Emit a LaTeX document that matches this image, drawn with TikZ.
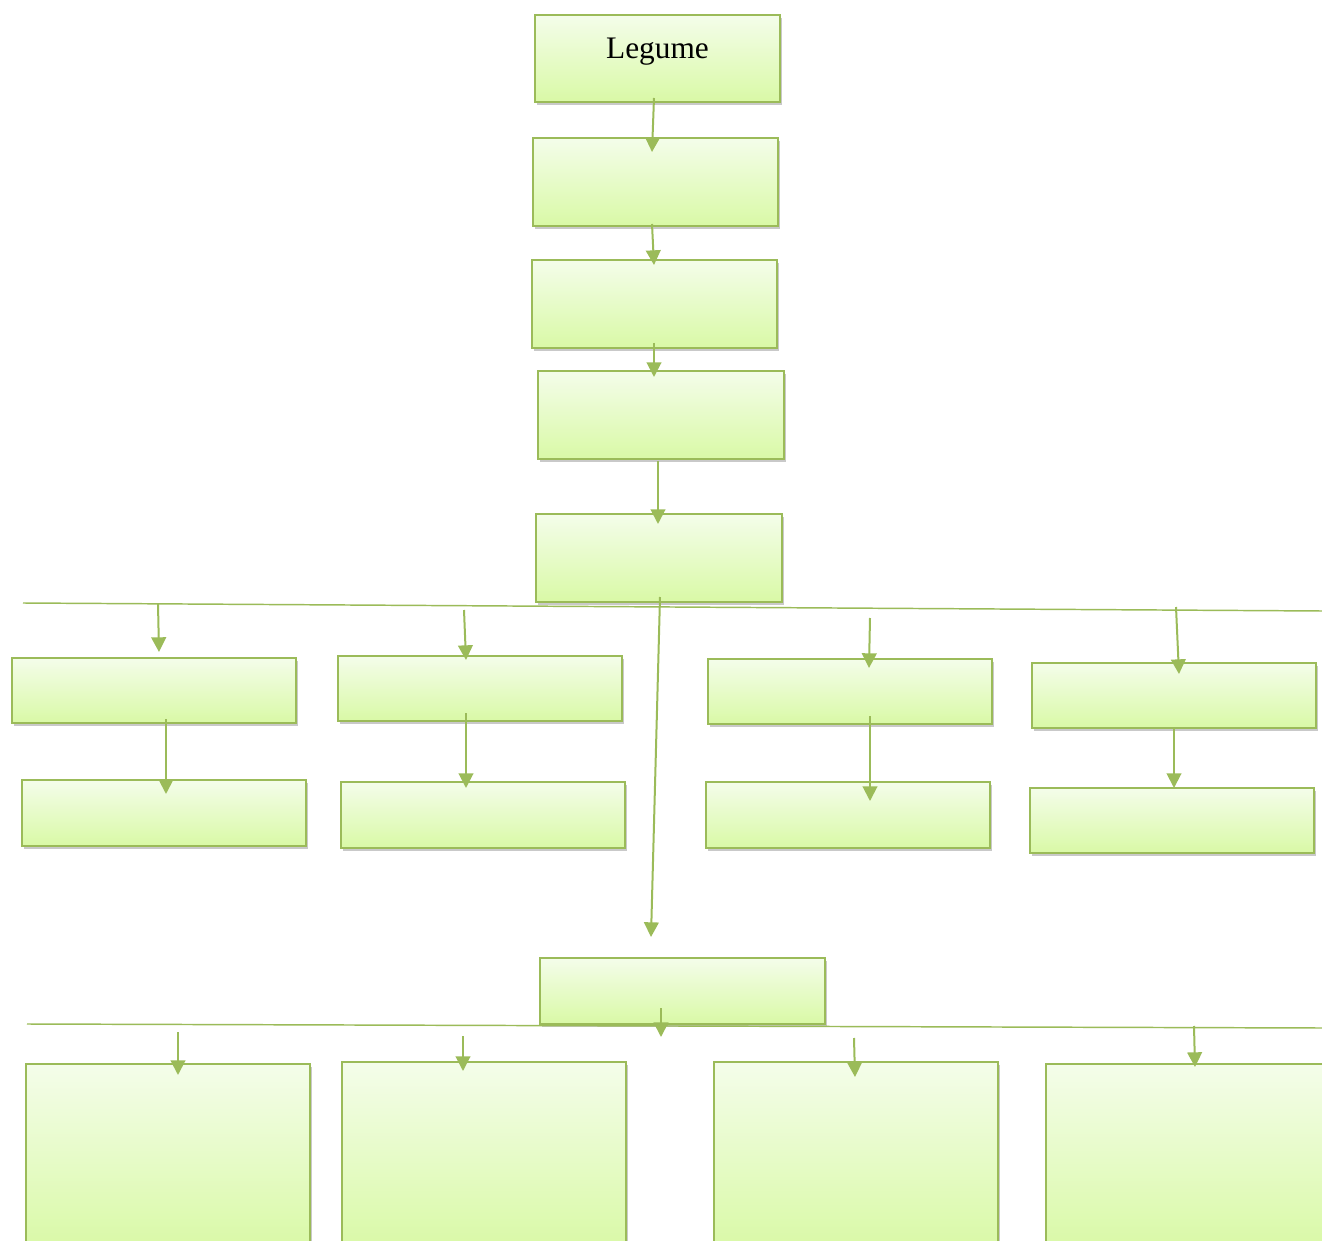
\documentclass[tikz,border=0pt]{standalone}
\usepackage{fontspec}
\setmainfont{Liberation Serif}
\usetikzlibrary{arrows.meta,shadows}
\definecolor{leafline}{HTML}{9BBB59}
\definecolor{leaftop}{HTML}{F4FDEA}
\definecolor{leafbot}{HTML}{D9F9A6}
\tikzset{
  box/.style={draw=leafline, line width=1.2pt, top color=leaftop, bottom color=leafbot,
    inner sep=0pt, outer sep=0pt,
    drop shadow={shadow xshift=1.8pt, shadow yshift=-2.4pt, opacity=0.3, fill=black!70}},
  arr/.style={draw=leafline, line width=1.5pt, -{Triangle[length=11pt,width=11pt]}},
  rule/.style={draw=leafline, line width=1.1pt},
}
% \leafbox{name}{x1}{y1}{x2}{y2}: a shaded box given by its corners
\newcommand\leafbox[5]{\node[box, minimum width={(#4-#2)*0.75pt}, minimum height={(#5-#3)*0.75pt}] (#1) at ({(#2+#4)/2},{(#3+#5)/2}) {};}
\begin{document}
\begin{tikzpicture}[x=0.75pt, y=-0.75pt]
\useasboundingbox (0,0) rectangle (1322,1241);
\clip (0,0) rectangle (1322,1241);

% main column
\leafbox{b0}{535}{15}{780}{102}
\leafbox{b1}{533}{138}{778}{226}
\leafbox{b2}{532}{260}{777}{348}
\leafbox{b3}{538}{371}{784}{459}
\leafbox{b4}{536}{514}{782}{602}
\node[font=\fontsize{23.5}{28}\selectfont, inner sep=0pt] (legume) at ([yshift=4.9pt]b0.center) {Legume};

% first branch rows
\leafbox{r1a}{12}{658}{296}{723}
\leafbox{r1b}{338}{656}{622}{721}
\leafbox{r1c}{708}{659}{992}{724}
\leafbox{r1d}{1032}{663}{1316}{728}
\leafbox{r2a}{22}{780}{306}{846}
\leafbox{r2b}{341}{782}{625}{848}
\leafbox{r2c}{706}{782}{990}{848}
\leafbox{r2d}{1030}{788}{1314}{853}

% second hub and its row
\leafbox{b5}{540}{958}{825}{1024}
\leafbox{r3a}{26}{1064}{310}{1250}
\leafbox{r3b}{342}{1062}{626}{1250}
\leafbox{r3c}{714}{1062}{998}{1250}
\leafbox{r3d}{1046}{1064}{1340}{1250}

% branching rules
\coordinate (h1l) at (23,603);
\coordinate (h1r) at (1322,611);
\coordinate (h2l) at (27,1024);
\coordinate (h2r) at (1322,1028);
\draw[rule] (h1l) -- (h1r);
\draw[rule] (h2l) -- (h2r);

% arrows down the main column
\coordinate (s01) at (654,98);   \coordinate (t01) at (652,152);
\coordinate (s12) at (652,224);  \coordinate (t12) at (654,265);
\coordinate (s23) at (654,343);  \coordinate (t23) at (654,377);
\coordinate (s34) at (658,461);  \coordinate (t34) at (658,524);
\coordinate (s45) at (660,597);  \coordinate (t45) at (651,937);
\draw[arr] (s01) -- (t01);
\draw[arr] (s12) -- (t12);
\draw[arr] (s23) -- (t23);
\draw[arr] (s34) -- (t34);
\draw[arr] (s45) -- (t45);

% arrows from the first rule
\coordinate (sa) at (158,604);   \coordinate (ta) at (159,652);
\coordinate (sb) at (464,610);   \coordinate (tb) at (466,660);
\coordinate (sc) at (870,618);   \coordinate (tc) at (869,668);
\coordinate (sd) at (1176,607);  \coordinate (td) at (1179,674);
\draw[arr] (sa) -- (ta);
\draw[arr] (sb) -- (tb);
\draw[arr] (sc) -- (tc);
\draw[arr] (sd) -- (td);

% arrows between the two rows
\coordinate (ua) at (166,719);   \coordinate (va) at (166,794);
\coordinate (ub) at (466,713);   \coordinate (vb) at (466,788);
\coordinate (uc) at (870,716);   \coordinate (vc) at (870,801);
\coordinate (ud) at (1174,728);  \coordinate (vd) at (1174,788);
\draw[arr] (ua) -- (va);
\draw[arr] (ub) -- (vb);
\draw[arr] (uc) -- (vc);
\draw[arr] (ud) -- (vd);

% arrows from the second hub and rule
\coordinate (s5) at (661,1008);  \coordinate (t5) at (661,1037);
\draw[arr] (s5) -- (t5);
\coordinate (pa) at (178,1032);  \coordinate (qa) at (178,1075);
\coordinate (pb) at (463,1036);  \coordinate (qb) at (463,1071);
\coordinate (pc) at (854,1038);  \coordinate (qc) at (855,1077);
\coordinate (pd) at (1194,1026); \coordinate (qd) at (1195,1067);
\draw[arr] (pa) -- (qa);
\draw[arr] (pb) -- (qb);
\draw[arr] (pc) -- (qc);
\draw[arr] (pd) -- (qd);
\end{tikzpicture}
\end{document}
